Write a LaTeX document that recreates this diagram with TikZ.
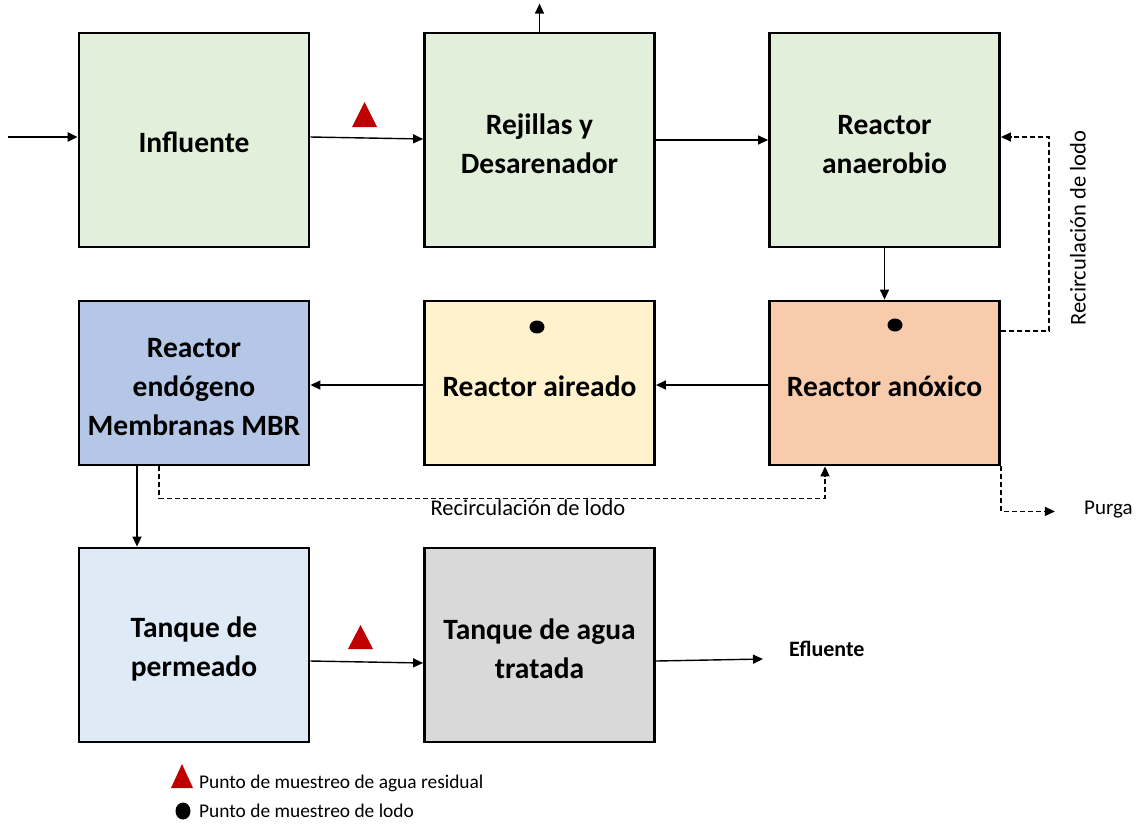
\documentclass[tikz,border=0pt]{standalone}
\usepackage{fontspec}
\setmainfont{Carlito}
\usetikzlibrary{arrows.meta,calc}

\definecolor{boxgreen}{HTML}{E2EFDA}
\definecolor{boxblue}{HTML}{B4C7E7}
\definecolor{boxyellow}{HTML}{FFF2CC}
\definecolor{boxorange}{HTML}{F8CBAD}
\definecolor{boxsky}{HTML}{DEEBF7}
\definecolor{boxgray}{HTML}{D9D9D9}
\definecolor{marker}{HTML}{C00000}

% taller first line, so that stacked labels sit a little lower in their box
\newcommand\firstline{\rule{0pt}{28pt}}

\tikzset{
  unit/.style={draw=black, line width=2.8pt, align=center,
    font=\fontsize{29.5}{39}\selectfont\bfseries, inner sep=0pt},
  wide/.style={minimum width=230pt},
  tall/.style={minimum height=214pt},
  mid/.style={minimum height=164pt},
  low/.style={minimum height=194pt},
  flow/.style={draw=black, line width=1.4pt, -{Triangle[length=10pt,width=9pt]}},
  recirc/.style={draw=black, line width=1.4pt, dash pattern=on 5pt off 3pt,
    -{Triangle[length=10pt,width=9pt]}},
  small/.style={font=\fontsize{22.5}{25}\selectfont, inner sep=0pt},
  legend/.style={font=\fontsize{19.4}{22}\selectfont, inner sep=0pt, anchor=west},
}

\begin{document}
\begin{tikzpicture}[x=1pt, y=-1pt]
\useasboundingbox (0,0) rectangle (1139,823);

% process units, top row
\node[unit, wide, tall, fill=boxgreen, text height=24pt, text depth=0pt] (infl) at (194,140) {Influente};
\node[unit, wide, tall, fill=boxgreen] (rej) at (539.5,140) {\firstline Rejillas y\\Desarenador};
\node[unit, wide, tall, fill=boxgreen] (ana) at (884.5,140) {\firstline Reactor\\anaerobio};

% middle row
\node[unit, wide, mid, fill=boxblue] (mbr) at (194,383) {\firstline Reactor\\endógeno\\Membranas MBR};
\node[unit, wide, mid, fill=boxyellow, text height=26pt, text depth=0pt] (air) at (539.5,383) {Reactor aireado};
\node[unit, wide, mid, fill=boxorange, text height=26pt, text depth=0pt] (anox) at (884.5,383) {Reactor anóxico};

% bottom row
\node[unit, wide, low, fill=boxsky] (perm) at (194,645) {\firstline Tanque de\\permeado};
\node[unit, wide, low, fill=boxgray] (trat) at (539.5,645) {\firstline Tanque de agua\\tratada};

% free ends of the inlet and outlet lines
\coordinate (inlet) at (8,137);
\coordinate (outlet) at (763,659);

% main water line
\draw[flow, line width=2.2pt] (inlet) -- ([yshift=3pt]infl.west);
\draw[flow] ([yshift=3pt]infl.east) -- ([yshift=1pt]rej.west);
\draw[flow] (rej.north) -- ++(0,-28);
\draw[flow] (rej.east) -- (ana.west);
\draw[flow] (ana.south) -- (anox.north);
\draw[flow] ([yshift=-2pt]anox.west) -- ([yshift=-2pt]air.east);
\draw[flow] ([yshift=-2pt]air.west) -- ([yshift=-2pt]mbr.east);
\draw[flow] ([xshift=-57pt]mbr.south) -- ([xshift=-57pt]perm.north);
\draw[flow] ([yshift=-16pt]perm.east) -- ([yshift=-18pt]trat.west);
\draw[flow] ([yshift=-16pt]trat.east) -- (outlet);
\node[small, font=\fontsize{22}{24}\selectfont\bfseries, anchor=west] (efl) at (789,649) {Efluente};

% sludge recirculation and purge
\draw[recirc] ([yshift=52pt]anox.east) -- ++(48,0) |- ([yshift=3pt]ana.east);
\node[small, rotate=90] (rec1) at (1078,228) {Recirculación de lodo};
\draw[recirc] ([xshift=-35pt]mbr.south) -- ++(0,32) -| ([xshift=-59.5pt]anox.south);
\node[small] (rec2) at (528,508) {Recirculación de lodo};
\draw[recirc] (anox.south east) -- ++(0,45) -- ++(54,0);
\node[small, font=\fontsize{21}{24}\selectfont, anchor=west] (purga) at (1084,510) {Purga};

% sampling points
\fill[marker] (352,127) -- (377,127) -- (364.5,102) -- cycle;
\fill[marker] (348,649) -- (373,649) -- (360.5,625) -- cycle;
\fill[black] (537,327) ellipse (7.5pt and 6.5pt);
\fill[black] (895,325) ellipse (7.5pt and 6.5pt);

% legend
\fill[marker] (171,788) -- (193,788) -- (182,764) -- cycle;
\node[legend] (leg1) at (199,783) {Punto de muestreo de agua residual};
\fill[black] (183,811) ellipse (7.5pt and 8.5pt);
\node[legend] (leg2) at (199,811) {Punto de muestreo de lodo};
\end{tikzpicture}
\end{document}
